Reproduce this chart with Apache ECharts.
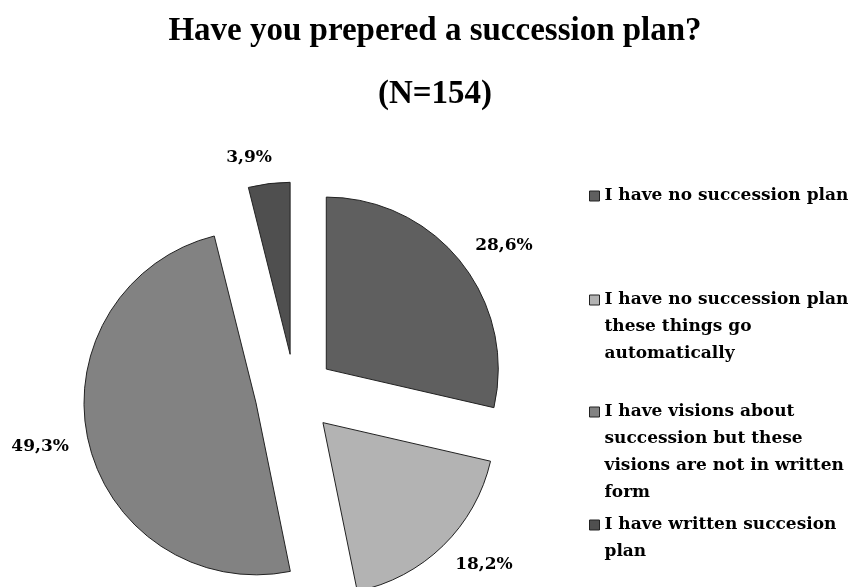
<!DOCTYPE html>
<html>
<head>
<meta charset="utf-8">
<script src="https://cdn.jsdelivr.net/npm/echarts@6/dist/echarts.min.js"></script>
<style>
  html, body { margin: 0; padding: 0; background: #fff; }
  #chart { width: 855px; height: 587px; }
</style>
</head>
<body>
<div id="chart"></div>
<script>
// Survey answers, clockwise from twelve o'clock
const categories = [
  'I have no succession plan',
  'I have no succession plan these things go automatically',
  'I have visions about succession but these visions are not in written form',
  'I have written succesion plan'
];
// Legend text as it wraps on the right-hand side
const legendLines = [
  ['I have no succession plan'],
  ['I have no succession plan', 'these things go', 'automatically'],
  ['I have visions about', 'succession but these', 'visions are not in written', 'form'],
  ['I have written succesion', 'plan']
];
const shares = [28.6, 18.2, 49.3, 3.9];
const sliceColors = ['#5f5f5f', '#b3b3b3', '#828282', '#4f4f4f'];

const titleText = 'Have you prepered a succession plan?';
const subtitleText = '(N=154)';

const LINE_H = 27;
// vertical centre of each legend marker
const legendMarkerY = [196, 300, 412, 525];

const serif = 'DejaVu Serif';

// One legend per answer so each block can sit at its own height.
// The legend centres its text block on the marker, so blank lines are
// put in front to keep the first text line level with the marker.
const legends = categories.map((name, i) => {
  const n = legendLines[i].length;
  const text = new Array(n - 1).fill('').concat(legendLines[i]).join('\n');
  return {
    data: [name],
    orient: 'vertical',
    left: 589,
    top: legendMarkerY[i] - (2 * n - 1) * LINE_H / 2,
    padding: 0,
    itemWidth: 10,
    itemHeight: 10,
    itemGap: 0,
    icon: 'rect',
    selectedMode: false,
    itemStyle: { borderColor: '#222', borderWidth: 1 },
    formatter: () => text,
    textStyle: {
      fontFamily: serif,
      fontWeight: 'bold',
      fontSize: 17,
      color: '#000',
      lineHeight: LINE_H
    }
  };
});

const titleFont = { fontFamily: 'Liberation Serif', fontWeight: 'bold', fontSize: 33, color: '#000' };

const chart = echarts.init(document.getElementById('chart'), null, { renderer: 'canvas' });
chart.setOption({
  backgroundColor: '#ffffff',
  animation: false,
  title: [
    { text: titleText, left: 435, textAlign: 'center', top: 15, padding: 0, textStyle: titleFont },
    { text: subtitleText, left: 435, textAlign: 'center', top: 78, padding: 0, textStyle: titleFont }
  ],
  legend: legends,
  series: [{
    type: 'pie',
    center: [295, 394],
    radius: 172,
    startAngle: 90,
    clockwise: true,
    selectedMode: 'multiple',
    selectedOffset: 40,
    avoidLabelOverlap: false,
    emphasis: { disabled: true },
    itemStyle: { borderColor: '#222', borderWidth: 1 },
    label: {
      show: true,
      position: 'outside',
      distanceToLabelLine: -6,
      fontFamily: serif,
      fontWeight: 'bold',
      fontSize: 17,
      color: '#000',
      formatter: p => p.value.toFixed(1).replace('.', ',') + '%'
    },
    labelLine: { show: false, length: 26, length2: 0 },
    data: categories.map((name, i) => ({
      name: name,
      value: shares[i],
      selected: true,
      itemStyle: { color: sliceColors[i] }
    }))
  }]
});
</script>
</body>
</html>
